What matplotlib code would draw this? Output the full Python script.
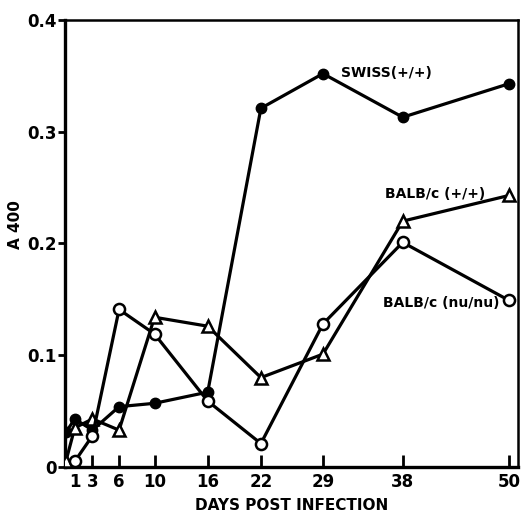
import numpy as np
import matplotlib
matplotlib.use('Agg')
import matplotlib.pyplot as plt


# Giorni dopo l'infezione
days    = [0, 1, 3, 6, 10, 16, 22, 29, 38, 50]
days_nu = [1, 3, 6, 10, 16, 22, 29, 38, 50]

# Assorbanza A400 per i tre ceppi
swiss   = [0.031, 0.043, 0.033, 0.054, 0.057, 0.067, 0.321, 0.352, 0.313, 0.343]
balb_pp = [0.005, 0.035, 0.043, 0.033, 0.134, 0.126, 0.080, 0.101, 0.220, 0.243]
balb_nu = [0.005, 0.028, 0.141, 0.119, 0.059, 0.021, 0.128, 0.201, 0.149]

xticks = [1, 3, 6, 10, 16, 22, 29, 38, 50]
yticks = [0, 0.1, 0.2, 0.3, 0.4]
ylabels = ['0', '0.1', '0.2', '0.3', '0.4']


def grafico():

    fig = plt.figure(figsize=(5.22, 5.15), dpi=100)
    ax = fig.add_axes([0.1245, 0.0932, 0.8678, 0.868])

    lw = 2.3
    ax.plot(days, swiss, '-o', color='black', lw=lw, ms=7.5,
            mfc='black', mec='black', zorder=3)
    ax.plot(days, balb_pp, '-^', color='black', lw=lw, ms=8.5,
            mfc='white', mec='black', mew=1.8, zorder=4)
    ax.plot(days_nu, balb_nu, '-o', color='black', lw=lw, ms=8,
            mfc='white', mec='black', mew=1.8, zorder=5)

    # Etichette delle curve
    fnt = dict(fontsize=10, fontweight='bold', family='DejaVu Sans')
    ax.text(36.2, 0.353, 'SWISS(+/+)', ha='center', va='center', **fnt)
    ax.text(41.7, 0.244, 'BALB/c (+/+)', ha='center', va='center', **fnt)
    ax.text(42.3, 0.147, 'BALB/c (nu/nu)', ha='center', va='center', **fnt)

    ax.set_xlim(-0.1, 51)
    ax.set_ylim(0, 0.4)

    ax.set_xticks(xticks)
    ax.set_xticklabels([str(d) for d in xticks], fontsize=12, fontweight='bold')
    ax.set_yticks(yticks)
    ax.set_yticklabels(ylabels, fontsize=12, fontweight='bold')

    ax.tick_params(axis='x', direction='in', length=9, width=2, pad=4)
    ax.tick_params(axis='y', direction='out', length=5, width=2, pad=1)

    for s in ['left', 'bottom']:
        ax.spines[s].set_linewidth(2.4)
    for s in ['top', 'right']:
        ax.spines[s].set_linewidth(1.8)

    ax.set_xlabel('DAYS POST INFECTION', fontsize=11, fontweight='bold', labelpad=5)
    fig.text(0.029, 0.563, 'A 400', rotation=90, ha='center', va='center',
             fontsize=11, fontweight='bold')

    fig.savefig('out.png', dpi=100)


if __name__ == "__main__":

    grafico()
